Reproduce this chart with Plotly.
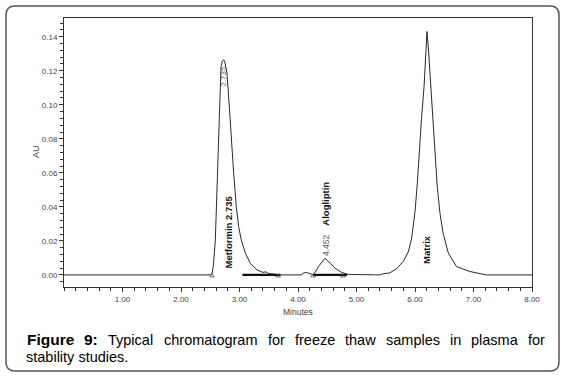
import plotly.graph_objects as go

# ---------------- data ----------------
time_min = [0.0, 2.50, 2.53, 2.555, 2.587, 2.627, 2.661, 2.684, 2.705, 2.729, 2.75,
            2.786, 2.826, 2.86, 2.90, 2.945, 2.985, 3.03, 3.10, 3.184, 3.30, 3.40,
            3.45, 3.50, 3.60, 3.70, 4.05, 4.10, 4.15, 4.21, 4.265, 4.35, 4.46, 4.55,
            4.635, 4.75, 4.86, 5.40, 5.45, 5.57, 5.63, 5.69, 5.80, 5.885, 5.94, 5.97,
            6.00, 6.04, 6.07, 6.11, 6.155, 6.18, 6.205, 6.234, 6.268, 6.302, 6.34,
            6.38, 6.427, 6.48, 6.57, 6.71, 6.94, 7.22, 8.0]
absorbance_au = [0.0, 0.0, 0.0005, 0.006, 0.0206, 0.0598, 0.099, 0.1225, 0.1255, 0.1265, 0.125,
                 0.1186, 0.099, 0.0794, 0.0598, 0.0402, 0.0284, 0.0206, 0.0128, 0.0069, 0.0029, 0.0015,
                 0.0018, 0.0008, 0.0003, 0.0, 0.0, 0.0012, 0.0014, 0.0005, 0.0, 0.0049, 0.0098, 0.0069,
                 0.0039, 0.0014, 0.0003, 0.0, 0.0006, 0.0012, 0.0025, 0.0038, 0.008, 0.0135, 0.021, 0.029,
                 0.037, 0.054, 0.0716, 0.0912, 0.1108, 0.1304, 0.1431, 0.1304, 0.1108, 0.0912, 0.0716,
                 0.052, 0.0363, 0.0245, 0.0128, 0.0049, 0.002, 0.0, 0.0]

# integration baselines (start, end in minutes)
baseline_start = [3.05, 4.26]
baseline_end = [3.70, 4.84]
# peak start/end markers (minutes)
mark_times = [2.53, 3.66, 4.26, 4.77]

retention_times = ["2.735", "4.452"]
peak_names = ["Metformin 2.735", "Alogliptin", "Matrix"]

y_ticks = [0.00, 0.02, 0.04, 0.06, 0.08, 0.10, 0.12, 0.14]
x_ticks = [1, 2, 3, 4, 5, 6, 7, 8]

caption_bold = ["Figure", "9:"]
caption_line1_words = ["Typical", "chromatogram", "for", "freeze", "thaw",
                       "samples", "in", "plasma", "for"]
caption_line2 = "stability studies."

# ---------------- layout geometry ----------------
W, H = 567, 379
L, R, T, B = 64, 35, 18, 92
PW, PH = W - L - R, H - T - B


def px(xp):
    return (xp - L) / PW


def py(yp):
    return (H - B - yp) / PH


FONT = "Liberation Sans, Arial, sans-serif"
LINE = "#2a2a2a"

fig = go.Figure()
fig.add_trace(go.Scatter(x=time_min, y=absorbance_au, mode="lines",
                         line=dict(color=LINE, width=1), hoverinfo="skip"))
for s, e in zip(baseline_start, baseline_end):
    fig.add_trace(go.Scatter(x=[s, e], y=[0, 0], mode="lines",
                             line=dict(color="#111", width=2.2), hoverinfo="skip"))
fig.add_trace(go.Scatter(x=mark_times, y=[-0.0006] * len(mark_times), mode="markers",
                         marker=dict(symbol="triangle-up-open", size=4,
                                     color="#444", line=dict(width=0.8, color="#444")),
                         hoverinfo="skip"))

ann = []
# peak labels (rotated)
ann.append(dict(x=2.73, y=0.117, text=retention_times[0], textangle=-90, showarrow=False,
                font=dict(family=FONT, size=8, color="#666"), xref="x", yref="y"))
ann.append(dict(x=2.82, y=0.0255, text="<b>%s</b>" % peak_names[0], textangle=-90,
                showarrow=False, font=dict(family=FONT, size=9.5, color="#111"), xref="x", yref="y"))
ann.append(dict(x=4.465, y=0.042, text="<b>%s</b>" % peak_names[1], textangle=-90,
                showarrow=False, font=dict(family=FONT, size=9.5, color="#111"), xref="x", yref="y"))
ann.append(dict(x=4.48, y=0.0176, text=retention_times[1], textangle=-90, showarrow=False,
                font=dict(family=FONT, size=8.5, color="#555"), xref="x", yref="y"))
ann.append(dict(x=6.205, y=0.0153, text="<b>%s</b>" % peak_names[2], textangle=-90,
                showarrow=False, font=dict(family=FONT, size=9.5, color="#111"), xref="x", yref="y"))

# axis titles
ann.append(dict(x=px(36), y=py(152), text="AU", textangle=-90, showarrow=False,
                xanchor="center", yanchor="middle",
                xref="paper", yref="paper", font=dict(family=FONT, size=9, color="#444")))
ann.append(dict(x=px(298), y=py(312), text="Minutes", showarrow=False,
                xanchor="center", yanchor="middle",
                xref="paper", yref="paper", font=dict(family=FONT, size=8.5, color="#444")))

# caption (justified first line)
cap_font = dict(family=FONT, size=14.5, color="#000")
bold_font = dict(family=FONT, size=15.5, color="#000")
line1_y = py(339.5)
line2_y = py(357)
for w, xw in zip(caption_bold, [25, 82]):
    ann.append(dict(x=px(xw), y=line1_y, text="<b>%s</b>" % w, showarrow=False,
                    xanchor="left", yanchor="middle", xref="paper", yref="paper", font=bold_font))
word_x = [106, 162, 265.5, 292.5, 343, 383.5, 447.5, 469, 525.5]
for w, xw in zip(caption_line1_words, word_x):
    ann.append(dict(x=px(xw), y=line1_y, text=w, showarrow=False, xanchor="left",
                    yanchor="middle", xref="paper", yref="paper", font=cap_font))
ann.append(dict(x=px(24), y=line2_y, text=caption_line2, showarrow=False, xanchor="left",
                yanchor="middle", xref="paper", yref="paper", font=cap_font))

# outer rounded frame
x0, y0, x1, y1, r = 6, 6, 559, 371, 9
rx, ry = r / PW, r / PH
X0, X1, Y0, Y1 = px(x0), px(x1), py(y0), py(y1)
path = (f"M {X0 + rx},{Y0} L {X1 - rx},{Y0} Q {X1},{Y0} {X1},{Y0 - ry} "
        f"L {X1},{Y1 + ry} Q {X1},{Y1} {X1 - rx},{Y1} L {X0 + rx},{Y1} "
        f"Q {X0},{Y1} {X0},{Y1 + ry} L {X0},{Y0 - ry} Q {X0},{Y0} {X0 + rx},{Y0} Z")

fig.update_layout(
    width=W, height=H, margin=dict(l=L, r=R, t=T, b=B),
    paper_bgcolor="white", plot_bgcolor="white", showlegend=False,
    annotations=ann,
    shapes=[dict(type="path", path=path, xref="paper", yref="paper",
                 line=dict(color="#555", width=1.5), layer="above")],
    xaxis=dict(range=[0, 8], tickvals=x_ticks, tickformat=".2f", ticks="outside",
               ticklen=4, tickcolor="#333", showline=True, linecolor="#333", linewidth=1,
               mirror=True, showgrid=False, zeroline=False,
               tickfont=dict(family=FONT, size=8, color="#444"),
               minor=dict(dtick=0.2, tick0=0, ticks="outside", ticklen=3, tickcolor="#333")),
    yaxis=dict(range=[-0.0071, 0.151], tickvals=y_ticks, tickformat=".2f", ticks="outside",
               ticklen=4, tickcolor="#333", showline=True, linecolor="#333", linewidth=1,
               mirror=True, showgrid=False, zeroline=False,
               tickfont=dict(family=FONT, size=8, color="#444"),
               minor=dict(dtick=0.004, tick0=0, ticks="outside", ticklen=3, tickcolor="#333")),
)

fig.write_html("out.html", config={"displayModeBar": False},
               post_script="document.body.style.margin='0';document.body.style.padding='0';")
